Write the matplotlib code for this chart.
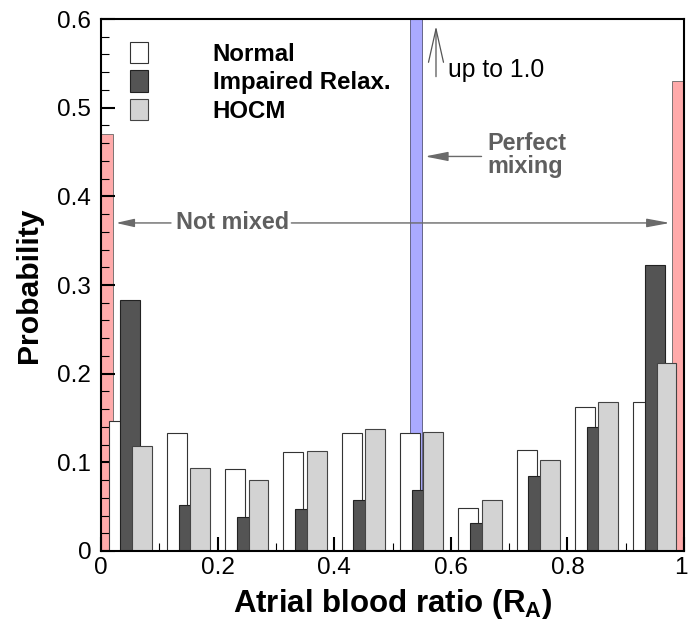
import matplotlib
matplotlib.use("Agg")
import matplotlib.pyplot as plt
import matplotlib.transforms as mtrans
import numpy as np
from matplotlib.ticker import MultipleLocator, FixedLocator

plt.rcParams['font.family'] = ['Liberation Sans', 'DejaVu Sans']
plt.rcParams['mathtext.fontset'] = 'custom'
plt.rcParams['mathtext.rm'] = 'Liberation Sans'
plt.rcParams['mathtext.bf'] = 'Liberation Sans:bold'

# ---- data ----
bin_centers = [0.05, 0.15, 0.25, 0.35, 0.45, 0.55, 0.65, 0.75, 0.85, 0.95]
normal = [0.147, 0.133, 0.093, 0.112, 0.133, 0.133, 0.049, 0.114, 0.162, 0.168]
impaired = [0.283, 0.052, 0.038, 0.047, 0.057, 0.069, 0.032, 0.085, 0.140, 0.323]
hocm = [0.118, 0.094, 0.080, 0.113, 0.138, 0.134, 0.058, 0.103, 0.168, 0.212]
series_labels = ["Normal", "Impaired Relax.", "HOCM"]

not_mixed_x = [0.01, 0.99]
not_mixed_p = [0.47, 0.53]
perfect_x = [0.54]
perfect_p = [1.0]

xticks = [0, 0.2, 0.4, 0.6, 0.8, 1.0]
xticklabels = ["0", "0.2", "0.4", "0.6", "0.8", "1"]
yticks = [0, 0.1, 0.2, 0.3, 0.4, 0.5, 0.6]
yticklabels = ["0", "0.1", "0.2", "0.3", "0.4", "0.5", "0.6"]

# ---- figure ----
fig = plt.figure(figsize=(6.88, 6.30), dpi=100)
ax = fig.add_axes([0.1468, 0.1254, 0.8474, 0.8444])

bw = 0.034
off = 0.02
xc = np.array(bin_centers)

ax.bar(not_mixed_x, not_mixed_p, width=0.02, color='#ffaaaa', edgecolor='#666666', linewidth=0.6, zorder=1)
ax.bar(perfect_x, perfect_p, width=0.02, color='#aaaaff', edgecolor='#555577', linewidth=0.6, zorder=1)

b1 = ax.bar(xc - off, normal, width=bw, color='white', edgecolor='#333333', linewidth=0.8, zorder=2, label=series_labels[0])
b2 = ax.bar(xc, impaired, width=bw, color='#545454', edgecolor='#222222', linewidth=0.8, zorder=3, label=series_labels[1])
b3 = ax.bar(xc + off, hocm, width=bw, color='#d3d3d3', edgecolor='#444444', linewidth=0.8, zorder=4, label=series_labels[2])

ax.set_xlim(0, 1)
ax.set_ylim(0, 0.6)

ax.xaxis.set_major_locator(FixedLocator(xticks))
ax.set_xticklabels(xticklabels, fontsize=17.5)
ax.xaxis.set_minor_locator(MultipleLocator(0.05))
ax.yaxis.set_major_locator(FixedLocator(yticks))
ax.set_yticklabels(yticklabels, fontsize=17.5)
ax.yaxis.set_minor_locator(MultipleLocator(0.02))

ax.tick_params(axis='both', which='major', direction='in', length=10, width=1.5,
               top=False, right=False)
ax.tick_params(axis='both', which='minor', direction='in', length=5.5, width=0.8,
               top=False, right=False)
ax.tick_params(axis='x', which='major', pad=4.5)
ax.tick_params(axis='y', which='major', pad=7)
for s in ax.spines.values():
    s.set_linewidth(1.5)
    s.set_zorder(10)

# keep the last x tick label ("1") inside the figure
last_lab = ax.xaxis.get_major_ticks()[-1].label1
last_lab.set_transform(last_lab.get_transform() +
                       mtrans.ScaledTranslation(-3.5 / 100, 0, fig.dpi_scale_trans))

ax.set_ylabel("Probability", fontsize=21.7, fontweight='bold')
ax.yaxis.set_label_coords(-0.099, 0.5)
ax.set_xlabel(r"Atrial blood ratio (R$_{\mathbf{A}}$)", fontsize=22.5, fontweight='bold')
ax.xaxis.set_label_coords(0.5, -0.067)

leg = ax.legend(handles=[b1, b2, b3], loc='upper left', bbox_to_anchor=(0.0497, 0.957),
                frameon=False, borderpad=0, borderaxespad=0,
                prop={'weight': 'bold', 'size': 17.3},
                handlelength=0.75, handleheight=0.97, handletextpad=2.7, labelspacing=0.2)

gray_txt = '#5f5f5f'
gray_line = '#6a6a6a'

# Not mixed
ax.text(0.2255, 0.37, "Not mixed", fontsize=16.8, fontweight='bold', color=gray_txt,
        ha='center', va='center', zorder=6)
ax.annotate('', xy=(0.0257, 0.37), xytext=(0.1201, 0.37),
            arrowprops=dict(arrowstyle='-|>,head_length=11,head_width=2.5', mutation_scale=1,
                            color=gray_line, lw=1.0, shrinkA=0, shrinkB=0), zorder=6)
ax.annotate('', xy=(0.976, 0.37), xytext=(0.3265, 0.37),
            arrowprops=dict(arrowstyle='-|>,head_length=14,head_width=2.6', mutation_scale=1,
                            color=gray_line, lw=1.0, shrinkA=0, shrinkB=0), zorder=6)

# Perfect mixing
ax.text(0.6625, 0.447, "Perfect\nmixing", fontsize=16.8, fontweight='bold', color=gray_txt,
        ha='left', va='center', linespacing=1.0, zorder=6)
ax.annotate('', xy=(0.5557, 0.445), xytext=(0.6527, 0.445),
            arrowprops=dict(arrowstyle='-|>,head_length=14,head_width=2.8', mutation_scale=1,
                            color=gray_line, lw=1.0, shrinkA=0, shrinkB=0), zorder=6)

# up to 1.0
ax.annotate('', xy=(0.5746, 0.592), xytext=(0.5746, 0.535),
            arrowprops=dict(arrowstyle='->,head_length=24,head_width=5.4', mutation_scale=1,
                            color='#555555', lw=0.9, shrinkA=0, shrinkB=0), zorder=6)
ax.text(0.5958, 0.535, "up to 1.0", fontsize=17.8, color='black', ha='left', va='baseline', zorder=6)

fig.savefig("out.png", dpi=100)
